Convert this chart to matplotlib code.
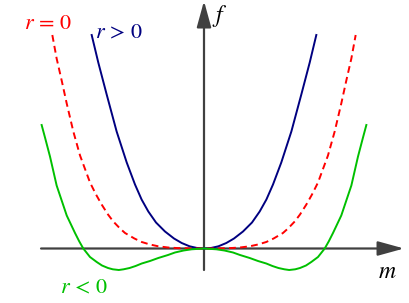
import matplotlib
matplotlib.use("Agg")
import matplotlib.pyplot as plt

plt.rcParams['mathtext.fontset'] = 'stix'

# values (curves are symmetric about m = 0)
m_pos = [-0.936, -0.881, -0.811, -0.728, -0.644, -0.575, -0.52, -0.464, -0.40, -0.325, -0.25, -0.186, -0.12, -0.061, 0.0,
         0.061, 0.12, 0.186, 0.25, 0.325, 0.40, 0.464, 0.52, 0.575, 0.644, 0.728, 0.811, 0.881, 0.936]
f_pos = [2.135, 1.86, 1.54, 1.17, 0.86, 0.64, 0.49, 0.37, 0.26, 0.17, 0.10, 0.055, 0.022, 0.006, 0.0,
         0.006, 0.022, 0.055, 0.10, 0.17, 0.26, 0.37, 0.49, 0.64, 0.86, 1.17, 1.54, 1.86, 2.135]

m_zero = [-1.264, -1.228, -1.186, -1.144, -1.089, -1.033, -0.950, -0.90, -0.853, -0.80, -0.756, -0.70, -0.658, -0.58, -0.519,
          -0.45, -0.381, -0.30, -0.217, -0.12, 0.0,
          0.12, 0.217, 0.30, 0.381, 0.45, 0.519, 0.58, 0.658, 0.70, 0.756, 0.80, 0.853, 0.90, 0.950, 1.033, 1.089,
          1.144, 1.186, 1.228, 1.264]
f_zero = [2.135, 1.90, 1.68, 1.45, 1.17, 0.93, 0.66, 0.54, 0.44, 0.34, 0.27, 0.20, 0.155, 0.10, 0.065,
          0.04, 0.022, 0.01, 0.004, 0.001, 0.0,
          0.001, 0.004, 0.01, 0.022, 0.04, 0.065, 0.10, 0.155, 0.20, 0.27, 0.34, 0.44, 0.54, 0.66, 0.93, 1.17,
          1.45, 1.68, 1.90, 2.135]

m_neg = [-1.353, -1.325, -1.283, -1.228, -1.144, -1.075, -1.04, -1.006, -0.95, -0.894, -0.85, -0.80, -0.76, -0.71, -0.67,
         -0.62, -0.57, -0.519, -0.45, -0.381, -0.30, -0.242, -0.17, -0.103, 0.0,
         0.103, 0.17, 0.242, 0.30, 0.381, 0.45, 0.519, 0.57, 0.62, 0.67, 0.71, 0.76, 0.80, 0.85, 0.894, 0.95,
         1.006, 1.04, 1.075, 1.144, 1.228, 1.283, 1.325, 1.353]
f_neg = [1.235, 1.11, 0.918, 0.63, 0.33, 0.155, 0.072, 0.0, -0.085, -0.135, -0.17, -0.195, -0.208, -0.215, -0.208,
         -0.195, -0.175, -0.15, -0.125, -0.095, -0.065, -0.040, -0.02, -0.008, 0.0,
         -0.008, -0.02, -0.040, -0.065, -0.095, -0.125, -0.15, -0.175, -0.195, -0.208, -0.215, -0.208, -0.195, -0.17,
         -0.135, -0.085, 0.0, 0.072, 0.155, 0.33, 0.63, 0.918, 1.11, 1.235]

fig = plt.figure(figsize=(4.09, 3.03), dpi=100)
ax = fig.add_axes([0, 0, 1, 1])
ax.set_xlim(-204 / 120, 205 / 120)
ax.set_ylim(-0.545, 2.485)
ax.axis('off')

axis_col = '#404040'
arrow = dict(arrowstyle='-|>,head_length=0.8,head_width=0.22', mutation_scale=20,
             color=axis_col, lw=1.6, shrinkA=0, shrinkB=0)
ax.annotate('', xy=(1.667, 0), xytext=(-1.358, 0), arrowprops=arrow, zorder=1)
ax.annotate('', xy=(0, 2.475), xytext=(0, -0.215), arrowprops=arrow, zorder=1)

ax.plot(m_pos, f_pos, color='#000080', lw=1.4, solid_joinstyle='round', zorder=2)
ax.plot(m_zero, f_zero, color='#ff0000', lw=1.4, dashes=(3.5, 2.2), zorder=3)
ax.plot(m_neg, f_neg, color='#00c000', lw=1.4, solid_joinstyle='round', zorder=4)

ax.text(-1.296, 2.255, r'$r\,=\,0$', color='#ff0000', fontsize=16, ha='center', va='center')
ax.text(-0.708, 2.165, r'$r\,>\,0$', color='#000080', fontsize=16, ha='center', va='center')
ax.text(-0.996, -0.385, r'$r\,<\,0$', color='#00c000', fontsize=16, ha='center', va='center')
ax.text(0.133, 2.325, r'$f$', color='black', fontsize=17, ha='center', va='center')
ax.text(1.525, -0.225, r'$m$', color='black', fontsize=17, ha='center', va='center')

fig.savefig('out.png', dpi=100)
